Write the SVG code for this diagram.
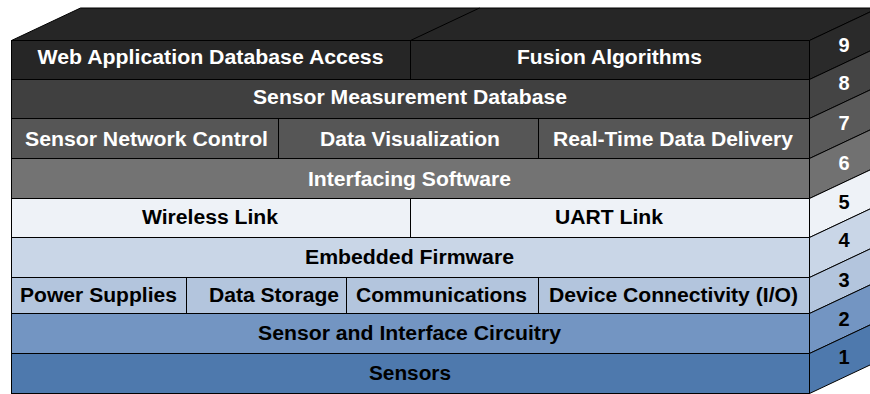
<svg xmlns="http://www.w3.org/2000/svg" width="870" height="394" viewBox="0 0 870 394">
  <style>
    .edge { stroke: #000; stroke-width: 1; stroke-linejoin: miter; }
    .lbl { font-family: "Liberation Sans", Arial, sans-serif; font-weight: bold; font-size: 20px; text-anchor: middle; }
    .num { font-family: "Liberation Sans", Arial, sans-serif; font-weight: bold; font-size: 20px; text-anchor: middle; }
    .lt { fill: #ffffff; }
    .dk { fill: #000000; }
  </style>

  <!-- top face of the stack, split in two like layer 9 -->
  <g id="top-face">
    <polygon class="edge" fill="#262626" points="11.5,40.5 80.5,8 878.5,8 809.5,40.5"/>
    <line class="edge" x1="410.5" y1="40.5" x2="479.5" y2="8"/>
  </g>

  <!-- layer 9 -->
  <g id="layer-9">
    <rect class="edge" fill="#262626" x="11.5" y="40.5" width="399" height="39"/>
    <rect class="edge" fill="#262626" x="410.5" y="40.5" width="399" height="39"/>
    <polygon class="edge" fill="#2a2a2a" points="809.5,40.5 878.5,8 878.5,47 809.5,79.5"/>
    <text class="lbl lt" x="210.5" y="64" textLength="346" lengthAdjust="spacingAndGlyphs">Web Application Database Access</text>
    <text class="lbl lt" x="609.5" y="64" textLength="185" lengthAdjust="spacingAndGlyphs">Fusion Algorithms</text>
    <text class="num lt" x="844" y="52">9</text>
  </g>

  <!-- layer 8 -->
  <g id="layer-8">
    <rect class="edge" fill="#404040" x="11.5" y="79.5" width="798" height="39"/>
    <polygon class="edge" fill="#444444" points="809.5,79.5 878.5,47 878.5,86 809.5,118.5"/>
    <text class="lbl lt" x="410" y="104" textLength="314" lengthAdjust="spacingAndGlyphs">Sensor Measurement Database</text>
    <text class="num lt" x="844" y="90">8</text>
  </g>

  <!-- layer 7 -->
  <g id="layer-7">
    <rect class="edge" fill="#565656" x="11.5" y="118.5" width="267" height="40"/>
    <rect class="edge" fill="#565656" x="278.5" y="118.5" width="260" height="40"/>
    <rect class="edge" fill="#565656" x="538.5" y="118.5" width="271" height="40"/>
    <polygon class="edge" fill="#5a5a5a" points="809.5,118.5 878.5,86 878.5,126 809.5,158.5"/>
    <text class="lbl lt" x="146.5" y="146" textLength="243" lengthAdjust="spacingAndGlyphs">Sensor Network Control</text>
    <text class="lbl lt" x="410" y="146" textLength="180" lengthAdjust="spacingAndGlyphs">Data Visualization</text>
    <text class="lbl lt" x="673" y="146" textLength="240" lengthAdjust="spacingAndGlyphs">Real-Time Data Delivery</text>
    <text class="num lt" x="844" y="129.5">7</text>
  </g>

  <!-- layer 6 -->
  <g id="layer-6">
    <rect class="edge" fill="#737373" x="11.5" y="158.5" width="798" height="40"/>
    <polygon class="edge" fill="#717171" points="809.5,158.5 878.5,126 878.5,166 809.5,198.5"/>
    <text class="lbl lt" x="409.5" y="186" textLength="203" lengthAdjust="spacingAndGlyphs">Interfacing Software</text>
    <text class="num lt" x="844" y="169.5">6</text>
  </g>

  <!-- layer 5 -->
  <g id="layer-5">
    <rect class="edge" fill="#eef2f7" x="11.5" y="198.5" width="399" height="39"/>
    <rect class="edge" fill="#eef2f7" x="410.5" y="198.5" width="399" height="39"/>
    <polygon class="edge" fill="#eef2f7" points="809.5,198.5 878.5,166 878.5,205 809.5,237.5"/>
    <text class="lbl dk" x="210" y="224" textLength="136" lengthAdjust="spacingAndGlyphs">Wireless Link</text>
    <text class="lbl dk" x="609" y="224" textLength="108" lengthAdjust="spacingAndGlyphs">UART Link</text>
    <text class="num dk" x="844" y="208.5">5</text>
  </g>

  <!-- layer 4 -->
  <g id="layer-4">
    <rect class="edge" fill="#c9d6e7" x="11.5" y="237.5" width="798" height="40"/>
    <polygon class="edge" fill="#c9d6e7" points="809.5,237.5 878.5,205 878.5,245 809.5,277.5"/>
    <text class="lbl dk" x="409.5" y="264" textLength="209" lengthAdjust="spacingAndGlyphs">Embedded Firmware</text>
    <text class="num dk" x="844" y="247">4</text>
  </g>

  <!-- layer 3 -->
  <g id="layer-3">
    <rect class="edge" fill="#b3c5dd" x="11.5" y="277.5" width="175" height="36"/>
    <rect class="edge" fill="#b3c5dd" x="186.5" y="277.5" width="160" height="36"/>
    <rect class="edge" fill="#b3c5dd" x="346.5" y="277.5" width="192" height="36"/>
    <rect class="edge" fill="#b3c5dd" x="538.5" y="277.5" width="271" height="36"/>
    <polygon class="edge" fill="#b3c5dd" points="809.5,277.5 878.5,245 878.5,281 809.5,313.5"/>
    <text class="lbl dk" x="98.5" y="302" textLength="157" lengthAdjust="spacingAndGlyphs">Power Supplies</text>
    <text class="lbl dk" x="274" y="302" textLength="130" lengthAdjust="spacingAndGlyphs">Data Storage</text>
    <text class="lbl dk" x="441.5" y="302" textLength="171" lengthAdjust="spacingAndGlyphs">Communications</text>
    <text class="lbl dk" x="673.5" y="302" textLength="249" lengthAdjust="spacingAndGlyphs">Device Connectivity (I/O)</text>
    <text class="num dk" x="844" y="287">3</text>
  </g>

  <!-- layer 2 -->
  <g id="layer-2">
    <rect class="edge" fill="#7395c2" x="11.5" y="313.5" width="798" height="40"/>
    <polygon class="edge" fill="#7395c2" points="809.5,313.5 878.5,281 878.5,321 809.5,353.5"/>
    <text class="lbl dk" x="409.5" y="339.5" textLength="303" lengthAdjust="spacingAndGlyphs">Sensor and Interface Circuitry</text>
    <text class="num dk" x="844" y="326">2</text>
  </g>

  <!-- layer 1 -->
  <g id="layer-1">
    <rect class="edge" fill="#4e79ad" x="11.5" y="353.5" width="798" height="40"/>
    <polygon class="edge" fill="#4e79ad" points="809.5,353.5 878.5,321 878.5,361 809.5,393.5"/>
    <text class="lbl dk" x="410" y="379.5" textLength="82" lengthAdjust="spacingAndGlyphs">Sensors</text>
    <text class="num dk" x="844" y="363.5">1</text>
  </g>

  <!-- no connectors in this stack diagram -->
  <g id="connectors"/>
</svg>
